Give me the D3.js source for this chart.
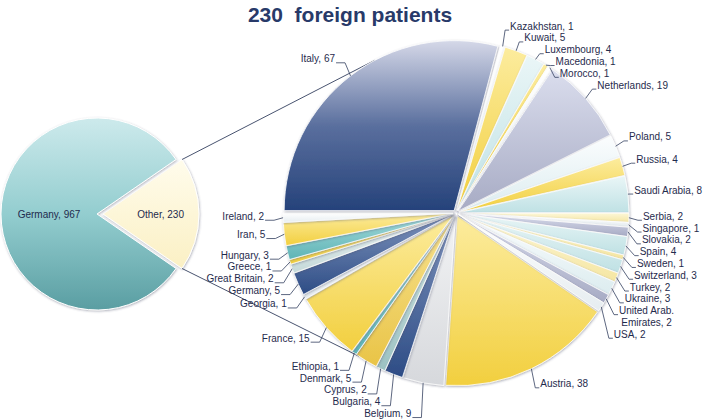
<!DOCTYPE html>
<html>
<head>
<meta charset="utf-8">
<script src="https://cdn.jsdelivr.net/npm/d3@7"></script>
<style>
body { margin: 0; background: #fff; }
svg { display: block; font-family: "Liberation Sans", Arial, sans-serif; }
</style>
</head>
<body>
<svg id="chart" width="704" height="419"></svg>
<script>
// main pie: all patients
var mainNames = ["Other", "Germany"];
var mainValues = [230, 967];

// breakdown of the 230 foreign patients
var countries = ["Austria", "Belgium", "Bulgaria", "Cyprus", "Denmark", "Ethiopia", "France", "Georgia",
  "Germany", "Great Britain", "Greece", "Hungary", "Iran", "Ireland", "Italy", "Kazakhstan", "Kuwait",
  "Luxembourg", "Macedonia", "Morocco", "Netherlands", "Poland", "Russia", "Saudi Arabia", "Serbia",
  "Singapore", "Slovakia", "Spain", "Sweden", "Switzerland", "Turkey", "Ukraine", "United Arab.|Emirates", "USA"];
var patients = [38, 9, 4, 2, 5, 1, 15, 1, 5, 2, 1, 3, 5, 2, 67, 1, 5, 4, 1, 1, 19, 5, 4, 8, 2, 1, 2, 4, 1, 3, 2, 3, 2, 2];

var titleText = "230  foreign patients";

// colours (top of slice -> bottom of slice)
var palette = {
  navy:   ["#d5d8e8", "#5a6f9e", "#25427a"],
  slate:  ["#7f94bd", "#2d4c85"],
  gray:   ["#dadded", "#a7abc4"],
  yellow: ["#fcec9e", "#f2cf3e"],
  gold:   ["#f7e290", "#e9c447"],
  paleY:  ["#fdf7d8", "#f5e6a2"],
  cyan:   ["#eaf6f7", "#bfe1e4"],
  ice:    ["#fbfdfe", "#dcecef"],
  teal:   ["#a6dbdb", "#5eb4b6"],
  sage:   ["#d6e8e7", "#9cc2c2"],
  mist:   ["#eef5f5", "#c5d9d9"],
  white:  ["#ffffff", "#e6edf0"],
  silver: ["#f3f4f5", "#d6d8dc"],
  germanyMain: ["#cdeaec", "#93cdcf", "#5a9ea2"],
  otherMain:   ["#fffcec", "#fbf0c4"]
};
var sliceColor = {
  "Austria": "yellow", "Belgium": "silver", "Bulgaria": "slate", "Cyprus": "sage", "Denmark": "gold",
  "Ethiopia": "teal", "France": "yellow", "Georgia": "white", "Germany": "slate", "Great Britain": "mist",
  "Greece": "yellow", "Hungary": "teal", "Iran": "yellow", "Ireland": "white", "Italy": "navy",
  "Kazakhstan": "white", "Kuwait": "yellow", "Luxembourg": "cyan", "Macedonia": "yellow", "Morocco": "white",
  "Netherlands": "gray", "Poland": "ice", "Russia": "yellow", "Saudi Arabia": "cyan", "Serbia": "paleY",
  "Singapore": "white", "Slovakia": "gray", "Spain": "cyan", "Sweden": "paleY", "Switzerland": "cyan",
  "Turkey": "paleY", "Ukraine": "ice", "United Arab.|Emirates": "gray", "USA": "white"
};
var mainColor = { "Other": "otherMain", "Germany": "germanyMain" };

var textColor = "#1f2b4d";
var lineColor = "#33405f";
var W = 704;

var svg = d3.select("#chart");
var defs = svg.append("defs");

var shade = defs.append("filter").attr("id", "shade")
  .attr("x", "-20%").attr("y", "-20%").attr("width", "140%").attr("height", "140%");
shade.append("feDropShadow")
  .attr("dx", 0.6).attr("dy", 0.9).attr("stdDeviation", 0.9)
  .attr("flood-color", "#4a5068").attr("flood-opacity", 0.45);

Object.keys(palette).forEach(function(k) {
  var g = defs.append("linearGradient").attr("id", "g-" + k)
    .attr("x1", 0).attr("y1", 0).attr("x2", 0).attr("y2", 1);
  var stops = palette[k];
  stops.forEach(function(c, i) {
    g.append("stop").attr("offset", i / (stops.length - 1)).attr("stop-color", c);
  });
});

function midAngle(d) { return (d.startAngle + d.endAngle) / 2; }

// ---------- title
svg.append("text")
  .attr("x", 350).attr("y", 22)
  .attr("text-anchor", "middle")
  .style("white-space", "pre")
  .attr("font-size", 21).attr("font-weight", "bold")
  .attr("fill", "#283a69")
  .text(titleText);

// ---------- left pie
var cx1 = 97, cy1 = 214, r1 = 96, otherShift = 6;
var otherSpan = 2 * Math.PI * mainValues[0] / d3.sum(mainValues);
var start1 = Math.PI / 2 - otherSpan / 2;
var pie1 = d3.pie().sort(null).startAngle(start1).endAngle(start1 + 2 * Math.PI);
var arc1 = d3.arc().innerRadius(0).outerRadius(r1);
var arcs1 = pie1(mainValues);

var left = svg.append("g").attr("transform", "translate(" + cx1 + "," + cy1 + ")");
var lg = left.selectAll("g.main").data(arcs1).enter().append("g")
  .attr("class", "main")
  .attr("transform", function(d, i) {
    var s = mainNames[i] === "Other" ? otherShift : 0, m = midAngle(d);
    return "translate(" + (s * Math.sin(m)) + "," + (-s * Math.cos(m)) + ")";
  });
lg.append("path")
  .attr("d", arc1)
  .attr("fill", function(d, i) { return "url(#g-" + mainColor[mainNames[i]] + ")"; })
  .attr("stroke", "#ffffff").attr("stroke-width", 1)
  .attr("filter", "url(#shade)");
lg.append("text")
  .attr("transform", function(d, i) {
    var m = midAngle(d), rr = mainNames[i] === "Other" ? r1 * 0.6 : r1 * 0.5;
    return "translate(" + (rr * Math.sin(m)) + "," + (-rr * Math.cos(m)) + ")";
  })
  .attr("text-anchor", "middle").attr("dy", "0.35em")
  .attr("font-size", 10).attr("fill", textColor)
  .text(function(d, i) { return mainNames[i] + ", " + mainValues[i]; });

// ---------- right pie
var cx2 = 456, cy2 = 213, r2 = 170, explode = 3;
var total2 = d3.sum(patients);
var before = d3.sum(patients.slice(0, countries.indexOf("Italy")));
var start2 = 1.5 * Math.PI - 2 * Math.PI * before / total2;
var pie2 = d3.pie().sort(null).startAngle(start2).endAngle(start2 + 2 * Math.PI);
var arc2 = d3.arc().innerRadius(0).outerRadius(r2);
var arcs2 = pie2(patients);

// connector lines from the "Other" slice to the secondary pie
var otherArc = arcs1[mainNames.indexOf("Other")];
var corners = [otherArc.startAngle, otherArc.endAngle].map(function(a) {
  return [cx1 + otherShift + r1 * Math.sin(a), cy1 - r1 * Math.cos(a)];
});
var targets = [-28, 214].map(function(deg) {
  var a = deg * Math.PI / 180;
  return [cx2 + (r2 + 3) * Math.sin(a), cy2 - (r2 + 3) * Math.cos(a)];
});
svg.selectAll("line.connector").data([0, 1]).enter().append("line")
  .attr("class", "connector")
  .attr("x1", function(i) { return corners[i][0]; })
  .attr("y1", function(i) { return corners[i][1]; })
  .attr("x2", function(i) { return targets[i][0]; })
  .attr("y2", function(i) { return targets[i][1]; })
  .attr("stroke", lineColor).attr("stroke-width", 0.9);

var right = svg.append("g").attr("transform", "translate(" + cx2 + "," + cy2 + ")");
right.selectAll("path").data(arcs2).enter().append("path")
  .attr("d", arc2)
  .attr("transform", function(d) {
    var m = midAngle(d);
    return "translate(" + (explode * Math.sin(m)) + "," + (-explode * Math.cos(m)) + ")";
  })
  .attr("fill", function(d, i) { return "url(#g-" + sliceColor[countries[i]] + ")"; })
  .attr("stroke", "#ffffff").attr("stroke-width", 0.8)
  .attr("filter", "url(#shade)");

// ---------- data labels with leader lines
var rx = r2 + 12, ry = r2 + 22, gap = 11.8;
var labels = arcs2.map(function(d, i) {
  var m = midAngle(d);
  var lines = (countries[i] + ", " + patients[i]).split("|");
  return {
    m: m,
    lines: lines,
    side: Math.sin(m) >= 0 ? 1 : -1,
    x: cx2 + rx * Math.sin(m),
    y: cy2 - ry * Math.cos(m) - 2
  };
});
[1, -1].forEach(function(side) {
  var list = labels.filter(function(l) { return l.side === side; })
    .sort(function(a, b) { return a.y - b.y; });
  for (var k = 1; k < list.length; k++) {
    var p = list[k - 1], c = list[k];
    c.y = Math.max(c.y, p.y + gap * (p.lines.length + c.lines.length) / 2);
  }
});

var lab = svg.append("g").selectAll("g").data(labels).enter().append("g");
lab.each(function(l) {
  var g = d3.select(this);
  var t = g.append("text")
    .attr("font-size", 10).attr("fill", textColor)
    .attr("text-anchor", "start");
  var y0 = l.y - gap * (l.lines.length - 1) / 2;
  l.lines.forEach(function(s, j) {
    t.append("tspan").attr("x", 0).attr("y", y0 + j * gap).attr("dy", "0.35em").text(s);
  });
  // centre multi-line labels on each other
  var widths = [];
  t.selectAll("tspan").each(function() { widths.push(this.getComputedTextLength()); });
  var w = d3.max(widths);
  var off = l.side > 0 ? 5 : 10;
  var tx = l.side > 0 ? l.x + off : l.x - off - w;
  if (tx + w > W - 2) tx = W - 2 - w;
  t.selectAll("tspan").attr("x", function(s, j) { return tx + (w - widths[j]) / 2; });
  // leader line: slice edge -> elbow -> short tick toward text
  var rr = r2 + explode;
  var yl = y0 + 4;
  var tickEnd = l.side > 0 ? tx - 1 : tx + w + 1;
  var elbow = l.side > 0 ? Math.min(l.x, tickEnd - 4) : Math.max(l.x, tickEnd + 4);
  var pts = [[cx2 + rr * Math.sin(l.m), cy2 - rr * Math.cos(l.m)], [elbow, yl], [tickEnd, yl]];
  g.insert("polyline", "text")
    .attr("points", pts.map(function(p) { return p.join(","); }).join(" "))
    .attr("fill", "none").attr("stroke", lineColor).attr("stroke-width", 0.8);
});
</script>
</body>
</html>
